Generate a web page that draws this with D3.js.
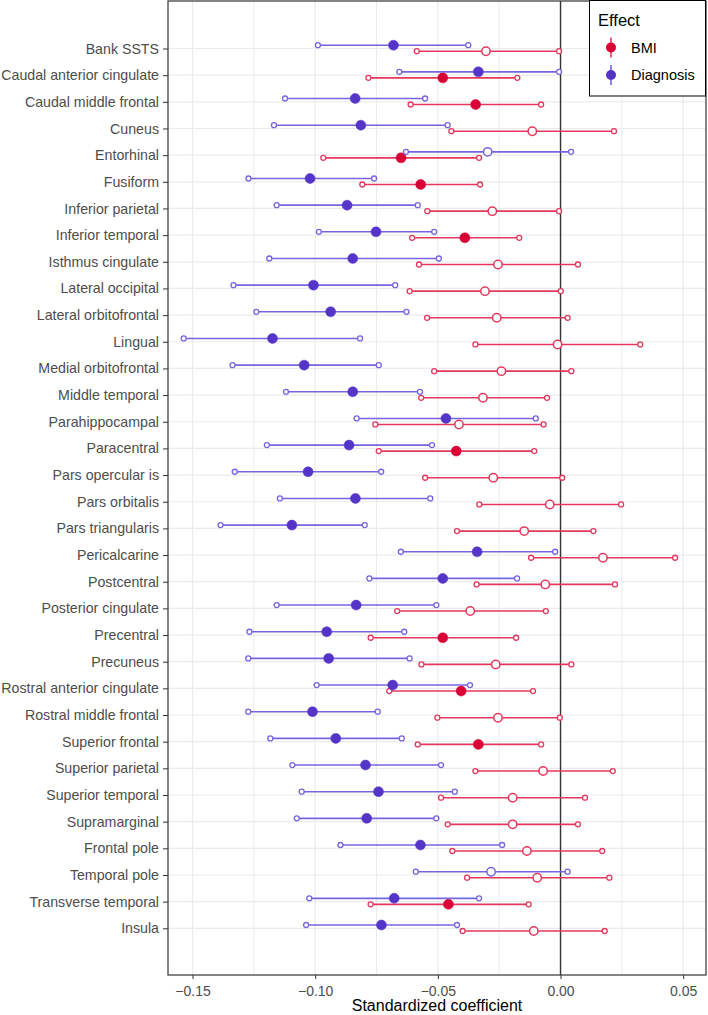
<!DOCTYPE html>
<html>
<head>
<meta charset="utf-8">
<script src="https://cdn.jsdelivr.net/npm/d3@7"></script>
<style>
  body { margin: 0; background: #fff; }
  svg { display: block; font-family: "Liberation Sans", Arial, sans-serif; }
</style>
</head>
<body>
<div id="chart"></div>
<script>
// Regions (top to bottom)
const regions = ["Bank SSTS", "Caudal anterior cingulate", "Caudal middle frontal", "Cuneus",
  "Entorhinal", "Fusiform", "Inferior parietal", "Inferior temporal", "Isthmus cingulate",
  "Lateral occipital", "Lateral orbitofrontal", "Lingual", "Medial orbitofrontal",
  "Middle temporal", "Parahippocampal", "Paracentral", "Pars opercular is", "Pars orbitalis",
  "Pars triangularis", "Pericalcarine", "Postcentral", "Posterior cingulate", "Precentral",
  "Precuneus", "Rostral anterior cingulate", "Rostral middle frontal", "Superior frontal",
  "Superior parietal", "Superior temporal", "Supramarginal", "Frontal pole", "Temporal pole",
  "Transverse temporal", "Insula"];

// BMI effect
const bmiEst  = [-0.0304, -0.0480, -0.0346, -0.0115, -0.0650, -0.0570, -0.0278, -0.0390, -0.0255, -0.0308,
  -0.0260, -0.0012, -0.0241, -0.0316, -0.0414, -0.0425, -0.0274, -0.0044, -0.0148, 0.0173,
  -0.0062, -0.0368, -0.0480, -0.0264, -0.0405, -0.0255, -0.0335, -0.0071, -0.0195, -0.0195,
  -0.0137, -0.0095, -0.0457, -0.0109];
const bmiLow  = [-0.0586, -0.0783, -0.0611, -0.0445, -0.0967, -0.0808, -0.0543, -0.0605, -0.0577, -0.0615,
  -0.0544, -0.0347, -0.0515, -0.0568, -0.0755, -0.0741, -0.0552, -0.0331, -0.0422, -0.0120,
  -0.0342, -0.0666, -0.0774, -0.0567, -0.0698, -0.0502, -0.0582, -0.0347, -0.0487, -0.0460,
  -0.0441, -0.0381, -0.0774, -0.0399];
const bmiHigh = [-0.0006, -0.0176, -0.0079, 0.0218, -0.0332, -0.0328, -0.0006, -0.0168, 0.0071, 0.0001,
  0.0029, 0.0325, 0.0044, -0.0055, -0.0069, -0.0107, 0.0007, 0.0247, 0.0134, 0.0467,
  0.0222, -0.0060, -0.0181, 0.0044, -0.0112, -0.0003, -0.0079, 0.0213, 0.0100, 0.0071,
  0.0170, 0.0199, -0.0130, 0.0180];
const bmiSig  = [0, 1, 1, 0, 1, 1, 0, 1, 0, 0, 0, 0, 0, 0, 0, 1, 0, 0, 0, 0,
  0, 0, 1, 0, 1, 0, 1, 0, 0, 0, 0, 0, 1, 0];

// Diagnosis effect
const diagEst  = [-0.0681, -0.0335, -0.0837, -0.0814, -0.0297, -0.1021, -0.0870, -0.0752, -0.0847, -0.1007,
  -0.0937, -0.1174, -0.1045, -0.0847, -0.0467, -0.0862, -0.1029, -0.0836, -0.1095, -0.0340,
  -0.0480, -0.0833, -0.0953, -0.0945, -0.0684, -0.1011, -0.0916, -0.0795, -0.0742, -0.0790,
  -0.0571, -0.0283, -0.0678, -0.0730];
const diagLow  = [-0.0989, -0.0657, -0.1123, -0.1168, -0.0630, -0.1272, -0.1157, -0.0985, -0.1187, -0.1333,
  -0.1240, -0.1536, -0.1337, -0.1119, -0.0831, -0.1197, -0.1328, -0.1144, -0.1386, -0.0651,
  -0.0779, -0.1157, -0.1268, -0.1273, -0.0994, -0.1273, -0.1183, -0.1093, -0.1055, -0.1075,
  -0.0897, -0.0590, -0.1024, -0.1037];
const diagHigh = [-0.0376, -0.0006, -0.0552, -0.0460, 0.0043, -0.0760, -0.0582, -0.0515, -0.0496, -0.0674,
  -0.0628, -0.0817, -0.0741, -0.0573, -0.0101, -0.0524, -0.0731, -0.0531, -0.0798, -0.0022,
  -0.0177, -0.0506, -0.0637, -0.0615, -0.0369, -0.0745, -0.0647, -0.0487, -0.0431, -0.0506,
  -0.0238, 0.0029, -0.0332, -0.0422];
const diagSig  = [1, 1, 1, 1, 0, 1, 1, 1, 1, 1, 1, 1, 1, 1, 1, 1, 1, 1, 1, 1,
  1, 1, 1, 1, 1, 1, 1, 1, 1, 1, 1, 0, 1, 1];

const xTicks = [-0.15, -0.10, -0.05, 0.00, 0.05];
const xMinor = [-0.125, -0.075, -0.025, 0.025];

const W = 708, H = 1015;
const panel = { left: 168, right: 706, top: 1, bottom: 975 };

const svg = d3.select("#chart").append("svg")
  .attr("width", W).attr("height", H);

const x = d3.scaleLinear().domain([-0.16, 0.0593]).range([panel.left, panel.right]);
const y = d3.scalePoint().domain(regions).range([48.5, 928.3]);

// Series setup
const effects = [
  { name: "BMI", est: bmiEst, low: bmiLow, high: bmiHigh, sig: bmiSig,
    line: "#E3385E", point: "#D90036", dy: 2.7 },
  { name: "Diagnosis", est: diagEst, low: diagLow, high: diagHigh, sig: diagSig,
    line: "#7764E0", point: "#5535C8", dy: -3.3 }
];

// Panel background
svg.append("rect")
  .attr("x", panel.left).attr("y", panel.top)
  .attr("width", panel.right - panel.left).attr("height", panel.bottom - panel.top)
  .attr("fill", "#fff");

// Grid lines
const grid = svg.append("g");
grid.selectAll(".vminor").data(xMinor).enter().append("line")
  .attr("x1", d => x(d)).attr("x2", d => x(d))
  .attr("y1", panel.top).attr("y2", panel.bottom)
  .attr("stroke", "#EBEBEB").attr("stroke-width", 1);
grid.selectAll(".vmajor").data(xTicks).enter().append("line")
  .attr("x1", d => x(d)).attr("x2", d => x(d))
  .attr("y1", panel.top).attr("y2", panel.bottom)
  .attr("stroke", "#EBEBEB").attr("stroke-width", 1.2);
grid.selectAll(".hmajor").data(regions).enter().append("line")
  .attr("x1", panel.left).attr("x2", panel.right)
  .attr("y1", d => y(d)).attr("y2", d => y(d))
  .attr("stroke", "#EBEBEB").attr("stroke-width", 1.2);

// Zero reference line
svg.append("line")
  .attr("x1", x(0)).attr("x2", x(0))
  .attr("y1", panel.top).attr("y2", panel.bottom)
  .attr("stroke", "#333").attr("stroke-width", 1.4);

// Intervals and points
effects.forEach(e => {
  const g = svg.append("g");
  const rows = regions.map((r, i) => ({ r, est: e.est[i], low: e.low[i], high: e.high[i], sig: e.sig[i] }));

  g.selectAll(".ci").data(rows).enter().append("line")
    .attr("x1", d => x(d.low)).attr("x2", d => x(d.high))
    .attr("y1", d => y(d.r) + e.dy).attr("y2", d => y(d.r) + e.dy)
    .attr("stroke", e.line).attr("stroke-width", 1.6);

  // small open circles at interval ends
  ["low", "high"].forEach(k => {
    g.selectAll(".end-" + k).data(rows).enter().append("circle")
      .attr("cx", d => x(d[k])).attr("cy", d => y(d.r) + e.dy)
      .attr("r", 2.5)
      .attr("fill", "#fff").attr("stroke", e.line).attr("stroke-width", 1.3);
  });

  g.selectAll(".est").data(rows).enter().append("circle")
    .attr("cx", d => x(d.est)).attr("cy", d => y(d.r) + e.dy)
    .attr("r", d => d.sig ? 5 : 4.2)
    .attr("fill", d => d.sig ? e.point : "#fff")
    .attr("stroke", d => d.sig ? e.point : e.line)
    .attr("stroke-width", d => d.sig ? 0.5 : 1.5);
});

// Panel border
svg.append("rect")
  .attr("x", panel.left).attr("y", panel.top)
  .attr("width", panel.right - panel.left).attr("height", panel.bottom - panel.top)
  .attr("fill", "none").attr("stroke", "#333").attr("stroke-width", 1.2);

// X axis
const xAxis = svg.append("g")
  .attr("transform", `translate(0,${panel.bottom})`)
  .call(d3.axisBottom(x).tickValues(xTicks).tickFormat(d3.format(".2f")).tickSize(4).tickPadding(7));
xAxis.select(".domain").remove();
xAxis.selectAll(".tick line").attr("stroke", "#333");
xAxis.selectAll(".tick text").attr("fill", "#4D4D4D").attr("font-size", 14);

// Y axis
const yAxis = svg.append("g")
  .attr("transform", `translate(${panel.left},0)`)
  .call(d3.axisLeft(y).tickSize(5).tickPadding(4));
yAxis.select(".domain").remove();
yAxis.selectAll(".tick line").attr("stroke", "#333");
yAxis.selectAll(".tick text").attr("fill", "#4D4D4D").attr("font-size", 14.2);

// Axis title
svg.append("text")
  .attr("x", (panel.left + panel.right) / 2).attr("y", 1011)
  .attr("text-anchor", "middle").attr("font-size", 16).attr("fill", "#000")
  .text("Standardized coefficient");

// Legend
const lg = svg.append("g");
lg.append("rect")
  .attr("x", 589.5).attr("y", 0.5).attr("width", 116).attr("height", 95.5)
  .attr("fill", "#fff").attr("stroke", "#000").attr("stroke-width", 1);
lg.append("text").attr("x", 598).attr("y", 26)
  .attr("font-size", 16.5).attr("fill", "#000").text("Effect");
effects.forEach((e, i) => {
  const ky = 47.5 + i * 27.5;
  lg.append("line")
    .attr("x1", 611).attr("x2", 611).attr("y1", ky - 10).attr("y2", ky + 10)
    .attr("stroke", e.line).attr("stroke-width", 1.6);
  lg.append("circle").attr("cx", 611).attr("cy", ky).attr("r", 5)
    .attr("fill", e.point);
  lg.append("text").attr("x", 631).attr("y", ky + 5)
    .attr("font-size", 14.5).attr("fill", "#000").text(e.name);
});
</script>
</body>
</html>
